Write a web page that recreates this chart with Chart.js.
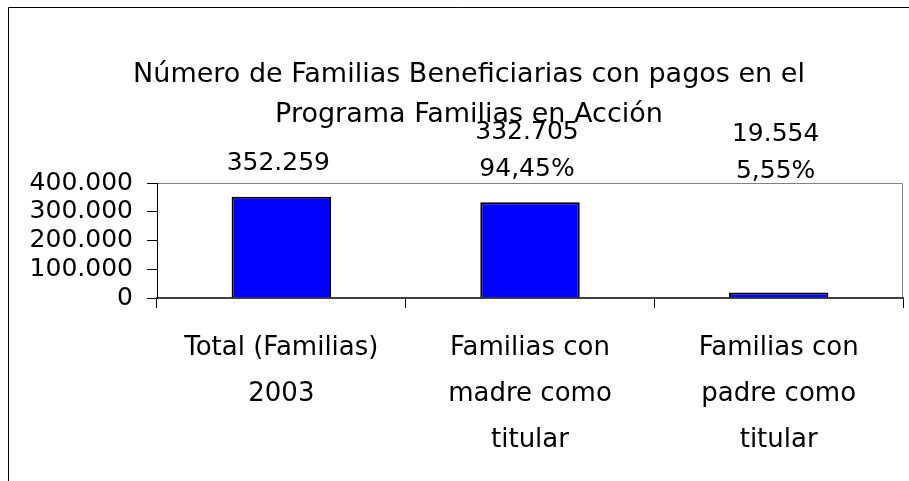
<!DOCTYPE html>
<html>
<head>
<meta charset="utf-8">
<script src="https://cdn.jsdelivr.net/npm/chart.js@4/dist/chart.umd.min.js"></script>
<style>
  html, body { margin: 0; padding: 0; background: #fff; }
  canvas { display: block; }
</style>
</head>
<body>
<canvas id="chart" width="909" height="481"></canvas>
<script>
const categories = [
  ['Total (Familias)', '2003'],
  ['Familias con', 'madre como', 'titular'],
  ['Familias con', 'padre como', 'titular']
];
const families = [352259, 332705, 19554];
const valueLabels = ['352.259', '332.705', '19.554'];
const shareLabels = ['', '94,45%', '5,55%'];
const yTicks = [0, 100000, 200000, 300000, 400000];
const titleLines = ['Número de Familias Beneficiarias con pagos en el', 'Programa Familias en Acción'];

const FONT = 'DejaVu Sans';

// frame around the chart (only top and left edges are visible in the picture)
const frame = {
  id: 'frame',
  afterLayout(chart) {
    // title in the original is centred a bit right of the canvas middle
    chart.titleBlock.left = 35;
  },
  beforeDraw(chart) {
    const ctx = chart.ctx;
    ctx.save();
    ctx.strokeStyle = '#000';
    ctx.lineWidth = 1;
    ctx.beginPath();
    ctx.moveTo(8.5, chart.height);
    ctx.lineTo(8.5, 7.5);
    ctx.lineTo(chart.width, 7.5);
    ctx.stroke();
    // plot area border, top and right
    const a = chart.chartArea;
    ctx.strokeStyle = '#808080';
    ctx.beginPath();
    ctx.moveTo(a.left, Math.round(a.top) + 0.5);
    ctx.lineTo(Math.round(a.right) - 0.5, Math.round(a.top) + 0.5);
    ctx.lineTo(Math.round(a.right) - 0.5, a.bottom);
    ctx.stroke();
    ctx.restore();
  }
};

// value labels above the bars, pushed up to the top of the plot area when the bar is short
const barLabels = {
  id: 'barLabels',
  afterDatasetsDraw(chart) {
    const ctx = chart.ctx;
    const top = chart.chartArea.top;
    ctx.save();
    ctx.font = '25px "' + FONT + '"';
    ctx.fillStyle = '#000';
    ctx.textAlign = 'center';
    ctx.textBaseline = 'middle';
    chart.getDatasetMeta(0).data.forEach((bar, i) => {
      const lines = [valueLabels[i], shareLabels[i]].filter(s => s);
      let y = Math.min(bar.y - 33, top - 12);
      for (let j = lines.length - 1; j >= 0; j--) {
        ctx.fillText(lines[j], bar.x - 3, y);
        y -= 37;
      }
    });
    ctx.restore();
  }
};

new Chart(document.getElementById('chart'), {
  type: 'bar',
  data: {
    labels: categories,
    datasets: [{
      data: families,
      backgroundColor: '#0000ff',
      borderColor: '#000',
      borderWidth: 2,
      barPercentage: 0.4,
      categoryPercentage: 1
    }]
  },
  options: {
    responsive: false,
    animation: false,
    layout: { padding: { left: 10, right: 6, top: 35, bottom: 0 } },
    plugins: {
      legend: { display: false },
      tooltip: { enabled: false },
      title: {
        display: true,
        text: titleLines,
        color: '#000',
        font: { family: FONT, size: 27, weight: 'normal', lineHeight: 40 / 27 },
        padding: { top: 20, bottom: 48 }
      }
    },
    scales: {
      x: {
        grid: { display: true, drawOnChartArea: false, tickLength: 10, color: '#000', offset: true },
        border: { color: '#404040', width: 2 },
        ticks: {
          color: '#000',
          padding: 17,
          maxRotation: 0,
          autoSkip: false,
          font: { family: FONT, size: 26, lineHeight: 46 / 26 }
        },
        afterFit(scale) { scale.height = 481 - 298; }
      },
      y: {
        min: 0,
        max: 400000,
        afterBuildTicks(scale) { scale.ticks = yTicks.map(v => ({ value: v })); },
        grid: { display: true, drawOnChartArea: false, tickLength: 10, color: '#000' },
        border: { color: '#000', width: 1 },
        ticks: {
          color: '#000',
          padding: 14,
          autoSkip: false,
          font: { family: FONT, size: 25 },
          callback: v => v.toLocaleString('de-DE')
        },
        afterFit(scale) { scale.width = 157 - 10; }
      }
    }
  },
  plugins: [frame, barLabels]
});
</script>
</body>
</html>
